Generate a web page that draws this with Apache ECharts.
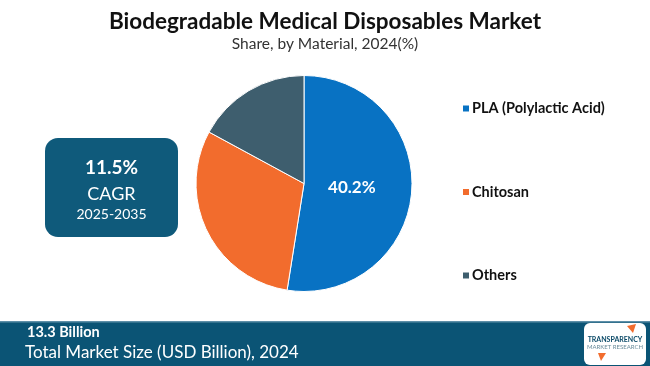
<!DOCTYPE html>
<html>
<head>
<meta charset="utf-8">
<script src="https://cdn.jsdelivr.net/npm/echarts@6/dist/echarts.min.js"></script>
<style>html,body{margin:0;padding:0;background:#fff}#c{width:650px;height:366px}</style>
</head>
<body>
<div id="c"></div>
<script>
const categories = ["PLA (Polylactic Acid)", "Chitosan", "Others"];
const sliceValues = [52.5, 30.4, 17.1];
const sliceLabels = ["40.2%", "", ""];
const colors = ["#0872C3", "#F26C2D", "#3E5E6E"];
const titleText = "Biodegradable Medical Disposables Market";
const subtitleText = "Share, by Material, 2024(%)";
const cagrTexts = ["11.5%", "CAGR", "2025-2035"];
const marketTexts = ["13.3 Billion", "Total Market Size (USD Billion), 2024"];

const chart = echarts.init(document.getElementById('c'), null, {renderer: 'canvas'});
chart.setOption({
  backgroundColor: '#ffffff',
  animation: false,
  title: {
    text: titleText,
    subtext: subtitleText,
    left: 'center',
    top: 5,
    itemGap: 3,
    textStyle: {fontFamily: 'Lato', fontWeight: 'bold', fontSize: 22.5, color: '#111'},
    subtextStyle: {fontFamily: 'Lato', fontSize: 15.5, color: '#333'}
  },
  legend: {
    orient: 'vertical',
    left: 456,
    top: 96,
    itemWidth: 8,
    itemHeight: 8,
    itemGap: 68.5,
    icon: 'rect',
    data: categories,
    textStyle: {fontFamily: 'Lato', fontWeight: 'bold', fontSize: 14.5, color: '#111', padding: [0, 0, 0, -3]}
  },
  series: [{
    type: 'pie',
    center: [304, 183.5],
    radius: [0, 108],
    startAngle: 90,
    clockwise: true,
    label: {
      position: 'inside',
      formatter: p => sliceLabels[p.dataIndex],
      color: '#fff',
      fontFamily: 'Lato',
      fontWeight: 'bold',
      fontSize: 17,
      padding: [0, 18, 0, 0]
    },
    labelLine: {show: false},
    itemStyle: {borderColor: '#fff', borderWidth: 1},
    data: categories.map((n, i) => ({name: n, value: sliceValues[i], itemStyle: {color: colors[i]}}))
  }],
  graphic: [
    {type: 'rect', shape: {x: 45, y: 138, width: 133, height: 99, r: 13}, style: {fill: '#0F5A7B'}},
    {type: 'text', x: 111.5, y: 168, style: {text: cagrTexts[0], fill: '#fff', font: 'bold 19px Lato', textAlign: 'center', textVerticalAlign: 'middle'}},
    {type: 'text', x: 111.5, y: 194, style: {text: cagrTexts[1], fill: '#fff', font: '18px Lato', textAlign: 'center', textVerticalAlign: 'middle'}},
    {type: 'text', x: 111.5, y: 214, style: {text: cagrTexts[2], fill: '#fff', font: '14px Lato', textAlign: 'center', textVerticalAlign: 'middle'}},
    {type: 'rect', shape: {x: 0, y: 321, width: 650, height: 45}, style: {fill: '#0B5475'}},
    {type: 'rect', shape: {x: 0, y: 321, width: 650, height: 1.5}, style: {fill: '#5E8FA8'}},
    {type: 'text', x: 27, y: 332, style: {text: marketTexts[0], fill: '#fff', font: 'bold 14.5px Lato', textVerticalAlign: 'middle'}},
    {type: 'text', x: 25, y: 353, style: {text: marketTexts[1], fill: '#fff', font: '17px Lato', textVerticalAlign: 'middle'}},
    {type: 'rect', shape: {x: 584, y: 323, width: 62, height: 42, r: 6}, style: {fill: '#fff'}},
    {type: 'polygon', shape: {points: [[627, 326], [636, 324], [633, 333]]}, style: {fill: '#F26C2D'}},
    {type: 'polygon', shape: {points: [[598, 353], [606, 353], [601, 361]]}, style: {fill: '#F26C2D'}},
    {type: 'text', x: 615, y: 340, style: {text: 'TRANSPARENCY', fill: '#0B4A68', font: 'bold 7px Lato', textAlign: 'center', textVerticalAlign: 'middle'}},
    {type: 'text', x: 615, y: 347, style: {text: 'MARKET RESEARCH', fill: '#6A8C9B', font: '6px Lato', textAlign: 'center', textVerticalAlign: 'middle'}}
  ]
});
</script>
</body>
</html>
